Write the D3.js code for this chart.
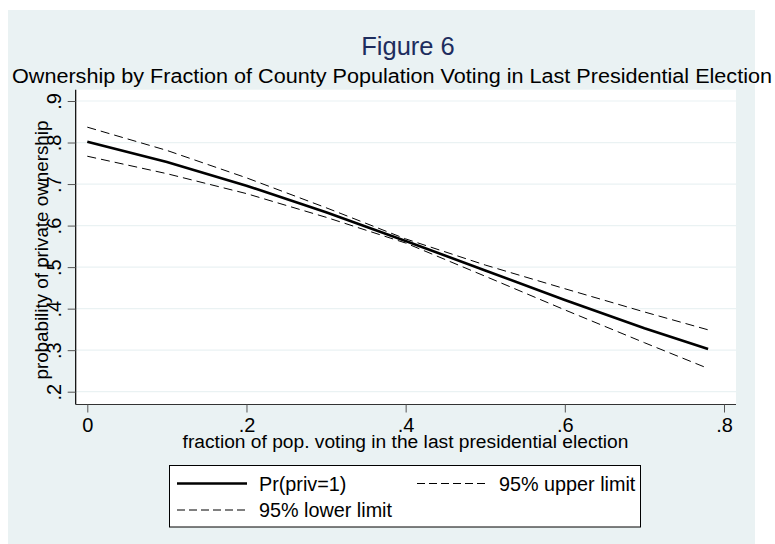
<!DOCTYPE html>
<html>
<head>
<meta charset="utf-8">
<script src="https://cdn.jsdelivr.net/npm/d3@7"></script>
<style>
  html, body { margin: 0; padding: 0; background: #ffffff; }
  svg { display: block; font-family: "Liberation Sans", Arial, sans-serif; }
</style>
</head>
<body>
<svg id="chart" width="775" height="544"></svg>
<script>
// Predicted probability of private ownership against turnout, with 95% limits
const xValues   = [0, 0.1, 0.2, 0.3, 0.4, 0.5, 0.6, 0.7, 0.78];
const predicted = [0.802, 0.753, 0.696, 0.632, 0.563, 0.492, 0.421, 0.353, 0.303];
const upperCI   = [0.837, 0.781, 0.715, 0.643, 0.568, 0.505, 0.448, 0.392, 0.349];
const lowerCI   = [0.767, 0.725, 0.677, 0.620, 0.558, 0.478, 0.397, 0.318, 0.256];

const xTicks = [0, 0.2, 0.4, 0.6, 0.8];
const yTicks = [0.2, 0.3, 0.4, 0.5, 0.6, 0.7, 0.8, 0.9];

const titleText    = "Figure 6";
const subtitleText = "Ownership by Fraction of County Population Voting in Last Presidential Election";
const xTitleText   = "fraction of pop. voting in the last presidential election";
const yTitleText   = "probability of private ownership";
const legendLabels = ["Pr(priv=1)", "95% upper limit", "95% lower limit"];

const svg = d3.select("#chart");
const bg = "#eaf2f3";
const fontFamily = "Liberation Sans, Arial, sans-serif";
const fmt = d => d === 0 ? "0" : d3.format(".1f")(d).replace(/^0/, "");

// outer graph region
svg.append("rect").attr("x", 8).attr("y", 10).attr("width", 747).attr("height", 534).attr("fill", bg);

// plot region
const plot = { left: 75.7, right: 736, top: 89.7, bottom: 404.5 };
svg.append("rect")
  .attr("x", plot.left).attr("y", plot.top)
  .attr("width", plot.right - plot.left).attr("height", plot.bottom - plot.top)
  .attr("fill", "#ffffff");

const x = d3.scaleLinear().domain([0, 0.8]).range([87.3, 724]);
const y = d3.scaleLinear().domain([0.2, 0.9]).range([391.7, 101]);

// horizontal grid
svg.append("g").selectAll("line").data(yTicks).join("line")
  .attr("x1", plot.left).attr("x2", plot.right)
  .attr("y1", d => y(d)).attr("y2", d => y(d))
  .attr("stroke", bg).attr("stroke-width", 1.2);

// y axis
const yAxis = svg.append("g").attr("transform", `translate(${plot.left},0)`)
  .call(d3.axisLeft(y).tickValues(yTicks).tickFormat(fmt).tickSize(8).tickPadding(0));
yAxis.select(".domain").attr("d", `M0,${plot.top}V${plot.bottom}`).attr("stroke", "#000").attr("stroke-width", 1.2);
yAxis.selectAll(".tick line").attr("stroke", "#555");
yAxis.selectAll(".tick text")
  .attr("x", null).attr("dy", null)
  .attr("transform", "translate(-14.5,0) rotate(-90)")
  .attr("text-anchor", "middle")
  .attr("font-size", 20).attr("fill", "#000")
  .style("font-family", fontFamily);

// x axis
const xAxis = svg.append("g").attr("transform", `translate(0,${plot.bottom})`)
  .call(d3.axisBottom(x).tickValues(xTicks).tickFormat(fmt).tickSize(8).tickPadding(0));
xAxis.select(".domain").attr("d", `M${plot.left},0H${plot.right}`).attr("stroke", "#333").attr("stroke-width", 1.2);
xAxis.selectAll(".tick line").attr("stroke", "#555");
xAxis.selectAll(".tick text")
  .attr("y", 27).attr("dy", null)
  .attr("font-size", 20).attr("fill", "#000")
  .style("font-family", fontFamily);

// titles
svg.append("text").attr("x", 408).attr("y", 55).attr("text-anchor", "middle")
  .attr("font-size", 25.5).attr("fill", "#1e2d5e").text(titleText);
svg.append("text").attr("x", 392).attr("y", 82.5).attr("text-anchor", "middle")
  .attr("font-size", 19.5).attr("textLength", 760).attr("lengthAdjust", "spacingAndGlyphs")
  .attr("fill", "#000").text(subtitleText);
svg.append("text").attr("x", 405.5).attr("y", 447.5).attr("text-anchor", "middle")
  .attr("font-size", 19.2).attr("fill", "#000").text(xTitleText);
svg.append("text").attr("transform", `translate(48,${(plot.top + plot.bottom) / 2 + 3}) rotate(-90)`)
  .attr("text-anchor", "middle").attr("font-size", 18.8).attr("fill", "#000").text(yTitleText);

// curves
const line = d3.line().x((d, i) => x(xValues[i])).y(d => y(d));
svg.append("path").datum(upperCI).attr("d", line).attr("fill", "none")
  .attr("stroke", "#000").attr("stroke-width", 1).attr("stroke-dasharray", "9,5");
svg.append("path").datum(lowerCI).attr("d", line).attr("fill", "none")
  .attr("stroke", "#000").attr("stroke-width", 1).attr("stroke-dasharray", "9,5");
svg.append("path").datum(predicted).attr("d", line).attr("fill", "none")
  .attr("stroke", "#000").attr("stroke-width", 2.6);

// legend
const lg = svg.append("g");
lg.append("rect").attr("x", 169.5).attr("y", 465.5).attr("width", 471).attr("height", 61.5)
  .attr("fill", "#fff").attr("stroke", "#000").attr("stroke-width", 1);
const items = [
  { label: legendLabels[0], x: 177, y: 483.5, dash: null, w: 2.6 },
  { label: legendLabels[1], x: 417, y: 483.5, dash: "8,4", w: 1 },
  { label: legendLabels[2], x: 177, y: 510,   dash: "8,4", w: 1 }
];
items.forEach(it => {
  lg.append("line").attr("x1", it.x).attr("x2", it.x + 70).attr("y1", it.y).attr("y2", it.y)
    .attr("stroke", "#000").attr("stroke-width", it.w).attr("stroke-dasharray", it.dash);
  lg.append("text").attr("x", it.x + 82).attr("y", it.y + 7)
    .attr("font-size", 19.8).attr("fill", "#000").text(it.label);
});
</script>
</body>
</html>
